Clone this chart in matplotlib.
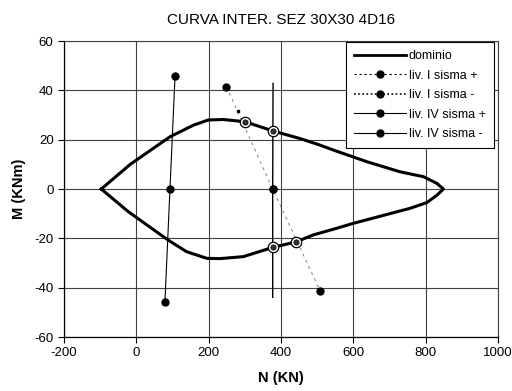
import matplotlib
matplotlib.use('Agg')
import matplotlib.pyplot as plt
from matplotlib.lines import Line2D

plt.rcParams['font.family'] = ['Liberation Sans', 'DejaVu Sans']
plt.rcParams['axes.unicode_minus'] = False

# dominio di resistenza (N in KN, M in KNm)
N_dom = [-97, -17, 93, 158, 199, 240, 300, 379, 452, 508, 545, 637, 729, 794, 831, 849,
         831, 803, 757, 600, 554, 489, 442, 376, 296, 231, 195, 139, 88, -22, -97]
M_dom = [0, 10, 21.2, 25.9, 28, 28.2, 27.3, 23.5, 20.5, 17.8, 15.8, 11.1, 7, 5, 2.3, 0,
         -2.5, -5.5, -7.8, -13.9, -15.9, -18.6, -21.4, -23.7, -27.4, -28.2, -28.1, -25.4, -20.7, -9.2, 0]

# sollecitazioni
N_I_piu = [249, 377, 508]
M_I_piu = [41.5, 0, -41.3]
N_I_meno = [282]
M_I_meno = [31.7]
N_IV_piu = [107, 93, 79]
M_IV_piu = [45.8, 0, -45.9]
N_IV_meno = [378, 377, 377]
M_IV_meno = [42.8, 0, -43.9]

# intersezioni con il dominio
N_int = [300, 377, 377, 441]
M_int = [27.2, 23.5, -23.6, -21.4]

fig = plt.figure(figsize=(5.12, 3.91), dpi=100)
ax = fig.add_axes([0.125, 0.138, 0.8477, 0.757])

ax.plot(N_dom, M_dom, color='black', lw=2.2, zorder=3)
ax.plot(N_I_piu, M_I_piu, color='#808080', lw=0.7, ls=(0, (3, 4)), marker='o', ms=5,
        mfc='black', mec='black', zorder=4)
ax.plot(N_I_meno, M_I_meno, ls='none', marker='s', ms=1.8, color='black', zorder=4)
ax.plot(N_IV_piu, M_IV_piu, color='black', lw=0.8, marker='o', ms=5, zorder=4)
ax.plot(N_IV_meno, M_IV_meno, color='black', lw=1.0, marker='o', ms=5, markevery=[1], zorder=4)
ax.plot(N_int, M_int, ls='none', marker='o', ms=7.5, mfc='white', mec='black', mew=0.9, zorder=5)
ax.plot(N_int, M_int, ls='none', marker='o', ms=3.8, mfc='#333333', mec='black', mew=0.5, zorder=6)

ax.set_xlim(-200, 1000)
ax.set_ylim(-60, 60)
ax.set_xticks(range(-200, 1001, 200))
ax.set_yticks(range(-60, 61, 20))
ax.grid(True, color='#404040', lw=0.8)
ax.set_axisbelow(True)
for s in ['top', 'right']:
    ax.spines[s].set_color('#404040')
    ax.spines[s].set_linewidth(0.8)
for s in ['left', 'bottom']:
    ax.spines[s].set_linewidth(0.9)
ax.tick_params(labelsize=9.5, length=4, width=0.8, direction='out', top=False, right=False)

ax.set_title('CURVA INTER. SEZ 30X30 4D16', fontsize=11, pad=12)
ax.set_xlabel('N (KN)', fontsize=10.5, fontweight='bold', labelpad=8)
ax.set_ylabel('M (KNm)', fontsize=10.5, fontweight='bold', labelpad=6)

handles = [
    Line2D([], [], color='black', lw=2.0),
    Line2D([], [], color='black', lw=0.8, ls=(0, (2, 2.5)), marker='o', ms=5),
    Line2D([], [], color='black', lw=1.2, ls=(0, (1, 1.5)), marker='o', ms=5),
    Line2D([], [], color='black', lw=0.8, marker='o', ms=5),
    Line2D([], [], color='black', lw=0.8, marker='o', ms=5),
]
labels = ['dominio', 'liv. I sisma +', 'liv. I sisma -', 'liv. IV sisma +', 'liv. IV sisma -']
leg = ax.legend(handles, labels, loc='upper right', bbox_to_anchor=(0.991, 0.997),
                fontsize=9, handlelength=4.2, handletextpad=0.2, labelspacing=0.6,
                borderpad=0.65, borderaxespad=0, fancybox=False, framealpha=1,
                edgecolor='black')
leg.get_frame().set_linewidth(0.8)

fig.savefig('out.png', dpi=100)
